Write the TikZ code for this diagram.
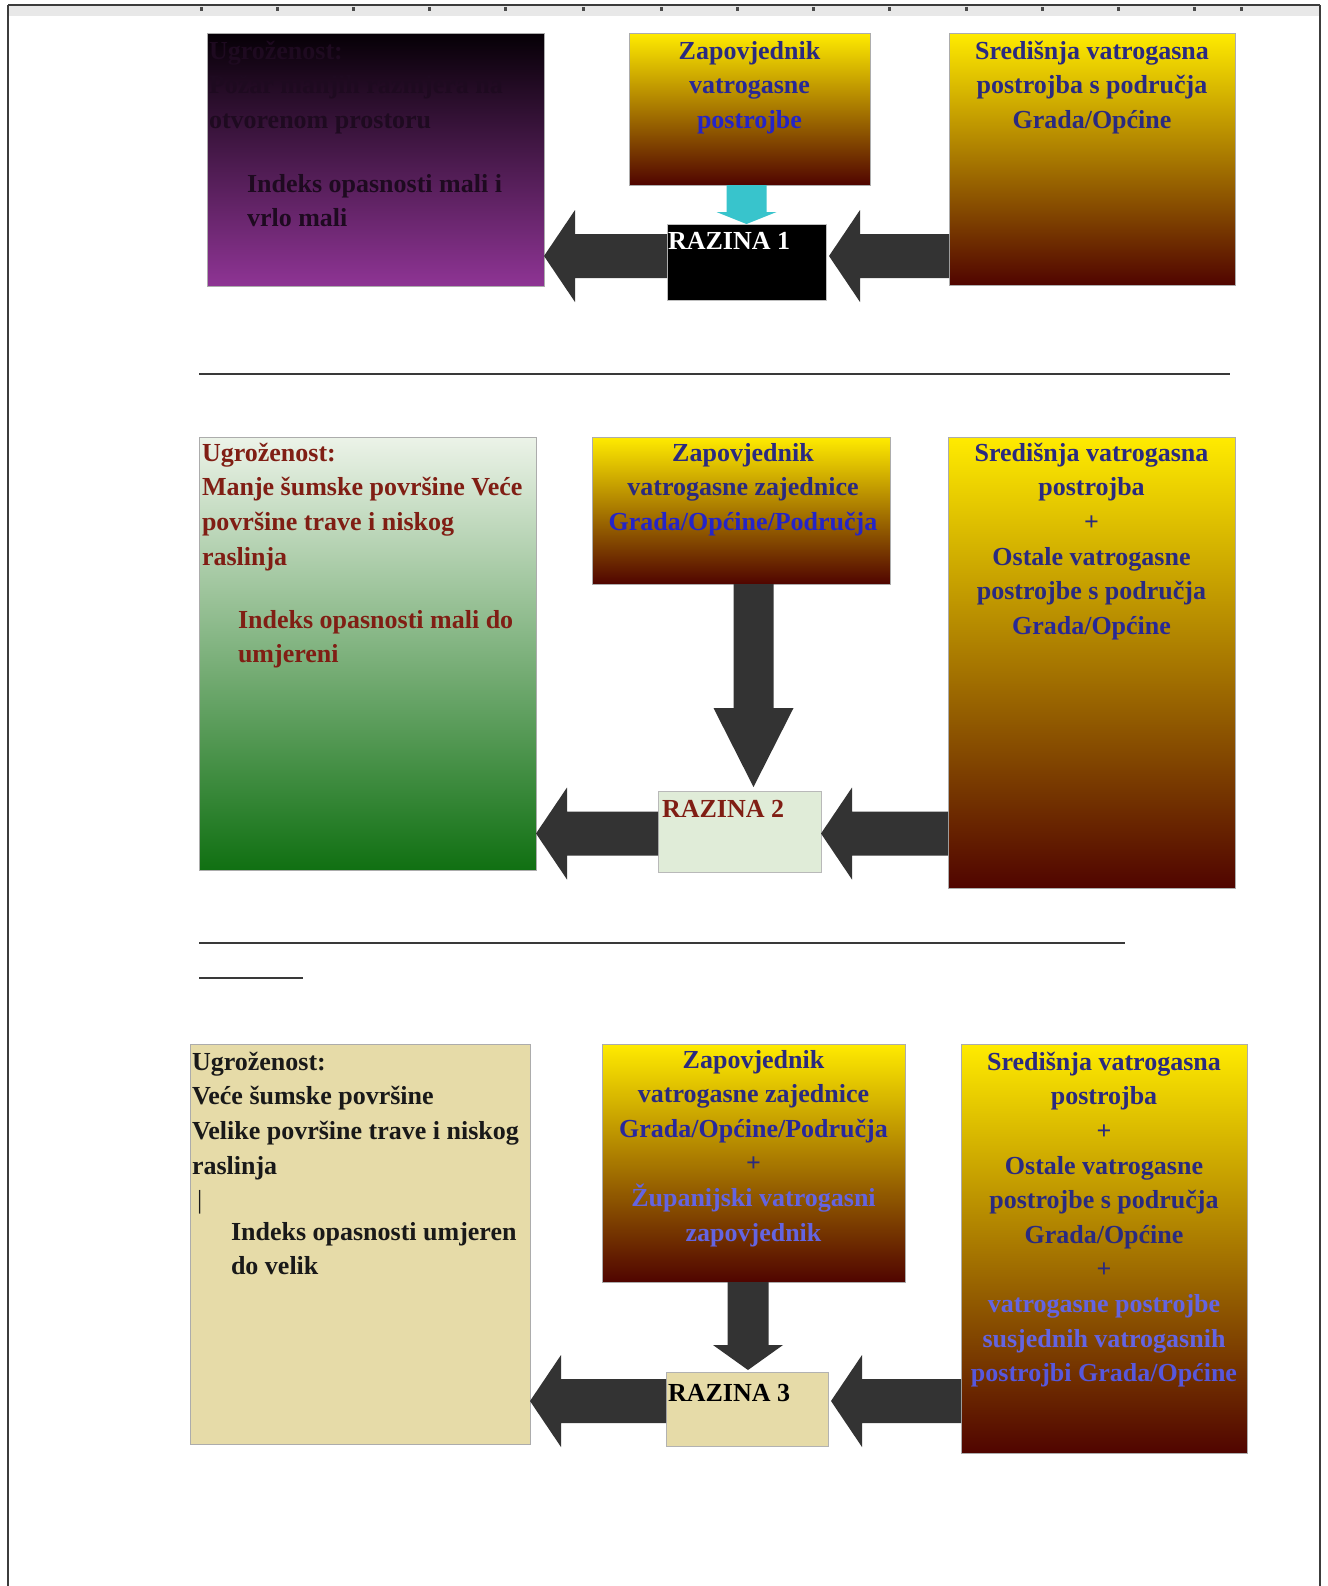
\documentclass[tikz,border=0pt]{standalone}
\usepackage{fontspec}
\setmainfont{Liberation Serif}
\usetikzlibrary{calc,fit}
\definecolor{navyA}{RGB}{42,42,128}
\definecolor{blueB}{RGB}{36,36,200}
\definecolor{blueL}{RGB}{100,100,225}
\definecolor{yelT}{RGB}{255,235,0}
\definecolor{yelM}{RGB}{190,128,0}
\definecolor{yelB}{RGB}{80,4,0}
\definecolor{purT}{RGB}{6,0,6}
\definecolor{purM}{RGB}{70,24,76}
\definecolor{purB}{RGB}{142,52,148}
\definecolor{grnT}{RGB}{236,243,232}
\definecolor{grnM}{RGB}{130,190,128}
\definecolor{grnB}{RGB}{16,112,18}
\definecolor{tanF}{RGB}{230,219,168}
\definecolor{paleG}{RGB}{224,236,216}
\definecolor{arrG}{RGB}{51,51,51}
\definecolor{cyanA}{RGB}{56,196,204}
\definecolor{redT}{RGB}{128,30,20}
\definecolor{purText}{RGB}{30,10,32}
\definecolor{frameC}{RGB}{60,60,60}
\tikzset{
  every node/.style={inner sep=0pt,outer sep=0pt},
  boxline/.style={draw=gray!65,line width=0.5pt},
  fire/.style={boxline,top color=yelT,middle color=yelM,bottom color=yelB},
  purplebox/.style={boxline,top color=purT,middle color=purM,bottom color=purB},
  greenbox/.style={boxline,top color=grnT,middle color=grnM,bottom color=grnB},
  tanbox/.style={boxline,fill=tanF},
  txt/.style={font=\bfseries\fontsize{13}{17.3}\selectfont},
  arr/.style={fill=arrG},
  divider/.style={draw=gray!45!black,line width=1.4pt},
}
% left-pointing block arrow: #1 tip, #2 tail (x only)
\newcommand\hblock[2]{%
  \fill[arr] let \p1=(#1), \p2=(#2) in
    (\x1,\y1) -- (\x1+15.5pt,\y1+23pt) -- (\x1+15.5pt,\y1+11pt) -- (\x2,\y1+11pt)
    -- (\x2,\y1-11pt) -- (\x1+15.5pt,\y1-11pt) -- (\x1+15.5pt,\y1-23pt) -- cycle;}
% downward block arrow: #1 tail (y only), #2 tip, #3 shaft half width, #4 head half width, #5 head length, #6 colour
\newcommand\vblock[6]{%
  \fill[#6] let \p1=(#1), \p2=(#2) in
    (\x2,\y2) -- (\x2+#4,\y2+#5) -- (\x2+#3,\y2+#5) -- (\x2+#3,\y1)
    -- (\x2-#3,\y1) -- (\x2-#3,\y2+#5) -- (\x2-#4,\y2+#5) -- cycle;}
\begin{document}
\begin{tikzpicture}[x=0.5pt,y=-0.5pt]
\useasboundingbox (0,0) rectangle (1328,1586);
\fill[white] (0,0) rectangle (1328,1586);
% page frame and ruler
\fill[gray!18] (8,5) rectangle (1320,16);
\draw[frameC,line width=1pt] (8,5) -- (1320,5);
\foreach \t in {201,277,353,429,505,583,661,737,813,889,966,1042,1118,1194,1241}
  \fill[gray!60!black] (\t-1.5,7) rectangle (\t+1.5,11);
\draw[frameC,line width=1pt] (8,5) -- (8,1586);
\draw[frameC,line width=1pt] (1320,5) -- (1320,1586);
% dividers
\draw[divider] (199,374) -- (1230,374);
\draw[divider] (199,943) -- (1125,943);
\draw[divider] (199,978) -- (303,978);

% ---------- row 1 ----------
\node[purplebox,fit={(207,33) (544,286)}] (p1) {};
\node[fire,fit={(629,33) (870,185)}] (z1) {};
\node[fire,fit={(949,33) (1235,285)}] (s1) {};
\node[fill=black,draw=gray!50,line width=0.5pt,fit={(667,224) (826,300)}] (r1) {};

\node[txt,text=purText,anchor=north west,align=left] (p1a) at ($(p1.north west)+(2,8)$)
  {Ugroženost:\\Požar manjih razmjera na\\otvorenom prostoru};
\node[txt,text=purText,anchor=north west,align=left] (p1b) at ($(p1.north west)+(40,141)$)
  {Indeks opasnosti mali i\\vrlo mali};
\node[txt,anchor=north,align=center] (z1t) at ($(z1.north)+(0,8)$)
  {\textcolor{navyA}{Zapovjednik}\\\textcolor{navyA!70!blueB}{vatrogasne}\\\textcolor{blueB}{postrojbe}};
\node[txt,text=navyA,anchor=north,align=center] (s1t) at ($(s1.north)+(0,8)$)
  {Središnja vatrogasna\\postrojba s područja\\Grada/Općine};
\node[txt,text=white,anchor=base west] (r1t) at ($(r1.north west)+(1,25)$) {RAZINA 1};

\coordinate (a1) at ($(p1.east |- r1.west)+(0,-6)$);
\hblock{a1}{r1.west}
\coordinate (a2) at ($(r1.east)+(3,-6)$);
\hblock{a2}{s1.west}
\coordinate (c1) at (r1.north);
\vblock{z1.south}{c1}{10pt}{15pt}{6pt}{cyanA}

% ---------- row 2 ----------
\node[greenbox,fit={(199,437) (536,870)}] (g2) {};
\node[fire,fit={(592,437) (890,584)}] (z2) {};
\node[fire,fit={(948,437) (1235,888)}] (s2) {};
\node[fill=paleG,draw=gray!55,line width=0.5pt,fit={(658,791) (821,872)}] (r2) {};

\node[txt,text=redT,anchor=north west,align=left] (g2a) at ($(g2.north west)+(3,6)$)
  {Ugroženost:\\Manje šumske površine Veće\\površine trave i niskog\\raslinja};
\node[txt,text=redT,anchor=north west,align=left] (g2b) at ($(g2.north west)+(39,173)$)
  {Indeks opasnosti mali do\\umjereni};
\node[txt,anchor=north,align=center] (z2t) at ($(z2.north)+(2,6)$)
  {\textcolor{navyA}{Zapovjednik}\\\textcolor{navyA}{vatrogasne zajednice}\\\textcolor{blueB}{Grada/Općine/Područja}};
\node[txt,text=navyA,anchor=north,align=center] (s2t) at ($(s2.north)+(0,6)$)
  {Središnja vatrogasna\\postrojba\\+\\Ostale vatrogasne\\postrojbe s područja\\\textcolor{navyA!70!blueB}{Grada/Općine}};
\node[txt,text=redT,anchor=base west] (r2t) at ($(r2.north west)+(4,26)$) {RAZINA 2};

\coordinate (b1) at ($(g2.east |- r2.west)+(0,2)$);
\hblock{b1}{r2.west}
\coordinate (b2) at ($(r2.east)+(0,2)$);
\hblock{b2}{s2.west}
\coordinate (c2) at ($(r2.north)+(14,-4)$);
\vblock{z2.south}{c2}{10pt}{20pt}{39.5pt}{arr}

% ---------- row 3 ----------
\node[tanbox,fit={(190,1044) (530,1444)}] (t3) {};
\node[fire,fit={(602,1044) (905,1282)}] (z3) {};
\node[fire,fit={(961,1044) (1247,1453)}] (s3) {};
\node[tanbox,draw=gray!60,fit={(666,1372) (828,1446)}] (r3) {};

\node[txt,text=black!90,anchor=north west,align=left] (t3a) at ($(t3.north west)+(2,8)$)
  {Ugroženost:\\Veće šumske površine\\Velike površine trave i niskog\\raslinja\\\hspace*{2.5pt}{\mdseries|}};
\node[txt,text=black!90,anchor=north west,align=left] (t3b) at ($(t3.north west)+(41,178)$)
  {Indeks opasnosti umjeren\\do velik};
\node[txt,anchor=north,align=center] (z3t) at ($(z3.north)+(0,6)$)
  {\textcolor{navyA}{Zapovjednik}\\\textcolor{navyA}{vatrogasne zajednice}\\\textcolor{navyA!60!blueB}{Grada/Općine/Područja}\\\textcolor{navyA}{+}\\\textcolor{blueL}{Županijski vatrogasni}\\\textcolor{blueL}{zapovjednik}};
\node[txt,anchor=north,align=center] (s3t) at ($(s3.north)+(0,8)$)
  {\textcolor{navyA}{Središnja vatrogasna}\\\textcolor{navyA}{postrojba}\\\textcolor{navyA}{+}\\\textcolor{navyA}{Ostale vatrogasne}\\\textcolor{navyA}{postrojbe s područja}\\\textcolor{navyA}{Grada/Općine}\\\textcolor{navyA}{+}\\\textcolor{blueL}{vatrogasne postrojbe}\\\textcolor{blueL}{susjednih vatrogasnih}\\\textcolor{blueL!80!blueB}{postrojbi Grada/Općine}};
\node[txt,text=black,anchor=base west] (r3t) at ($(r3.north west)+(2,29)$) {RAZINA 3};

\coordinate (d1) at ($(t3.east |- r3.west)+(0,-8)$);
\hblock{d1}{r3.west}
\coordinate (d2) at ($(r3.east)+(3,-8)$);
\hblock{d2}{s3.west}
\coordinate (c3) at ($(r3.north)+(1,-2)$);
\vblock{z3.south}{c3}{10.25pt}{17.5pt}{12.5pt}{arr}
\end{tikzpicture}
\end{document}
